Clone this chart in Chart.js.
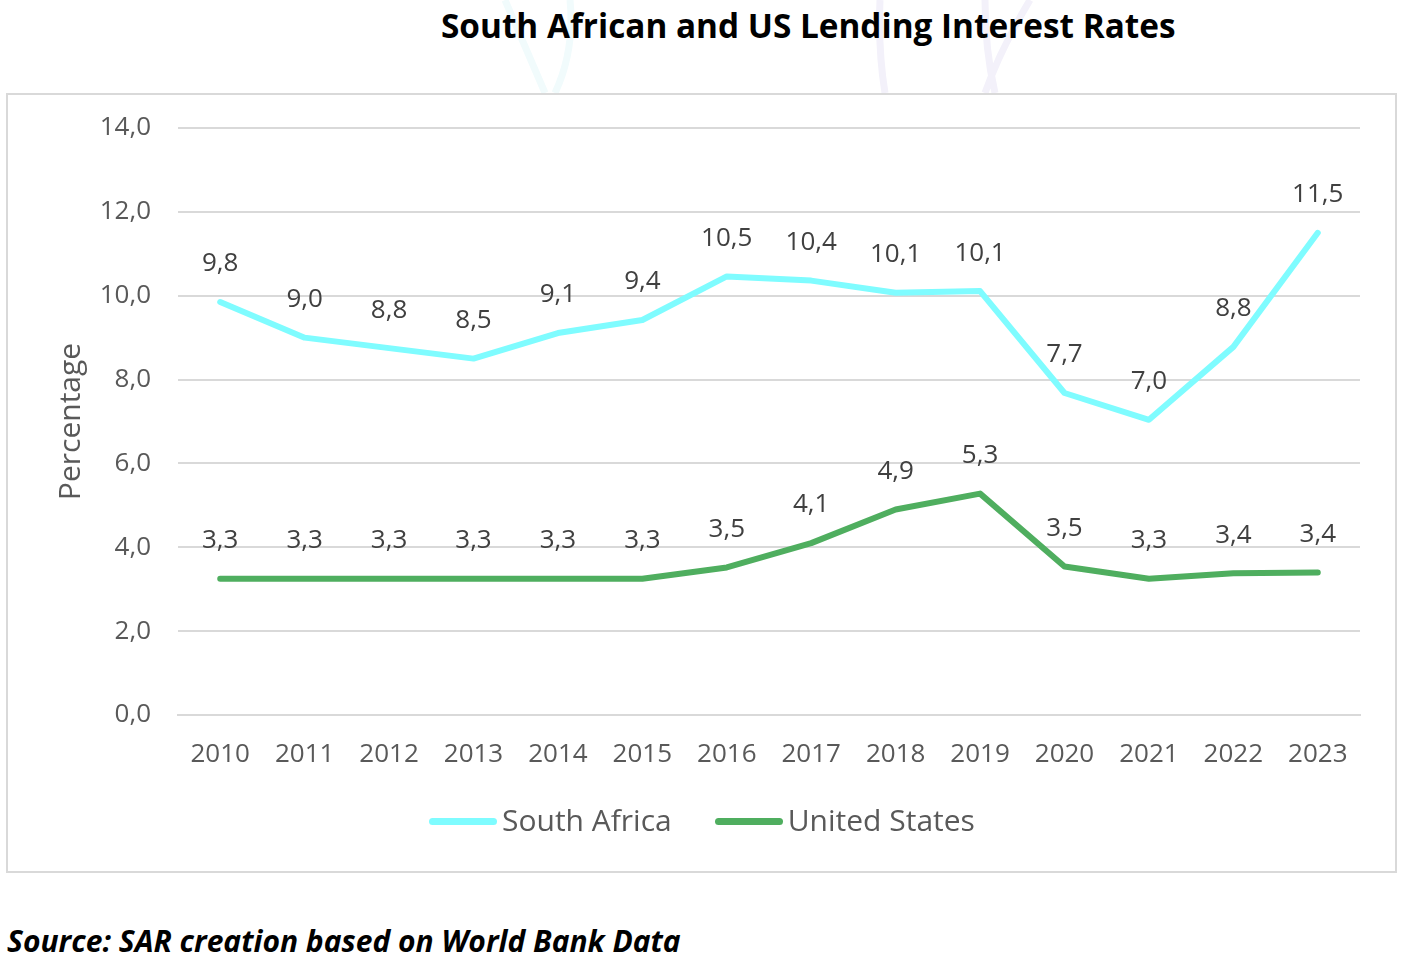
<!DOCTYPE html>
<html>
<head>
<meta charset="utf-8">
<title>South African and US Lending Interest Rates</title>
<script src="https://cdn.jsdelivr.net/npm/chart.js@4/dist/chart.umd.min.js"></script>
<style>
  html,body{margin:0;padding:0;background:#fff;font-family:"Open Sans",sans-serif;}
  body{position:relative;width:1402px;height:960px;overflow:hidden;}
  #mark{position:absolute;left:0;top:0;}
  #title{position:absolute;left:441px;top:2px;white-space:nowrap;font-size:33.35px;font-weight:700;color:#000;}
  #frame{position:absolute;left:6px;top:93px;width:1391px;height:780px;border:2px solid #d9d9d9;box-sizing:border-box;background:#fff;}
  #frame canvas{position:absolute;left:0;top:0;}
  #legend{position:absolute;left:421px;top:704px;display:flex;font-size:30px;color:#595959;white-space:nowrap;}
  #legend span.item{display:flex;align-items:center;margin-right:43px;}
  #legend span.key{display:inline-block;width:68px;height:7px;border-radius:4px;margin-right:5px;margin-top:3px;}
  #source{position:absolute;left:7px;top:920px;font-size:30px;font-weight:700;font-style:italic;color:#000;}
</style>
</head>
<body>
<svg id="mark" width="1402" height="93" fill="none" stroke-width="7">
  <path d="M505 0 L545 93 M570 0 Q575 50 555 93" stroke="#f1fbfc"/>
  <path d="M880 0 Q878 50 885 93 M1030 0 Q1000 50 985 93 M985 0 Q985 50 995 93" stroke="#f3f1fa"/>
</svg>
<div id="title">South African and US Lending Interest Rates</div>
<div id="frame">
  <canvas id="chart" width="1387" height="776"></canvas>
  <div id="legend"></div>
</div>
<div id="source">Source: SAR creation based on World Bank Data</div>
<script>
const years = ['2010','2011','2012','2013','2014','2015','2016','2017','2018','2019','2020','2021','2022','2023'];
const southAfrica = [9.85,9.0,8.75,8.5,9.11,9.42,10.46,10.36,10.07,10.11,7.68,7.04,8.78,11.5];
const unitedStates = [3.25,3.25,3.25,3.25,3.25,3.25,3.52,4.1,4.9,5.28,3.54,3.25,3.38,3.4];
const seriesNames = ['South Africa','United States'];
const seriesColors = ['#7ffcff','#4fae5f'];

const fmt = v => v.toFixed(1).replace('.',',');

// value labels above every point, placed off the library's own point positions
const pointLabels = {
  id:'pointLabels',
  afterDatasetsDraw(chart){
    const c = chart.ctx;
    c.save();
    c.font = '26px "Open Sans"';
    c.fillStyle = '#404040';
    c.textAlign = 'center';
    c.textBaseline = 'middle';
    chart.data.datasets.forEach((ds,i)=>{
      chart.getDatasetMeta(i).data.forEach((pt,j)=>{
        c.fillText(fmt(ds.data[j]), pt.x, pt.y-38);
      });
    });
    c.restore();
  }
};

new Chart(document.getElementById('chart'), {
  type:'line',
  data:{
    labels:years,
    datasets:[
      {label:seriesNames[0],data:southAfrica,borderColor:seriesColors[0],backgroundColor:seriesColors[0]},
      {label:seriesNames[1],data:unitedStates,borderColor:seriesColors[1],backgroundColor:seriesColors[1]}
    ]
  },
  plugins:[pointLabels],
  options:{
    responsive:false,
    animation:false,
    clip:false,
    layout:{padding:{top:33,right:35,left:0,bottom:0}},
    elements:{
      line:{borderWidth:6,tension:0,borderCapStyle:'round',borderJoinStyle:'round'},
      point:{radius:0}
    },
    plugins:{legend:{display:false},title:{display:false},tooltip:{enabled:false}},
    scales:{
      x:{
        offset:true,
        afterFit(s){ s.height = 156; },
        grid:{display:false,drawTicks:false},
        border:{color:'#d9d9d9',width:2},
        ticks:{color:'#595959',font:{family:'Open Sans',size:26},padding:24,maxRotation:0,autoSkip:false}
      },
      y:{
        min:0,max:14,
        // tick label overhang would otherwise push the plot top down
        afterFit(s){ s.width = 170; s.paddingTop = 0; s.paddingBottom = 0; },
        grid:{color:'#d9d9d9',lineWidth:2,drawTicks:false},
        border:{display:false},
        ticks:{stepSize:2,color:'#595959',font:{family:'Open Sans',size:26},padding:27,callback:v=>fmt(v)},
        title:{display:true,text:'Percentage',color:'#595959',font:{family:'Open Sans',size:30},padding:{top:45,bottom:0}}
      }
    }
  }
});

// legend
const legend = document.getElementById('legend');
seriesNames.forEach((n,i)=>{
  const item = document.createElement('span');
  item.className = 'item';
  item.innerHTML = `<span class="key" style="background:${seriesColors[i]}"></span>${n}`;
  legend.appendChild(item);
});
</script>
</body>
</html>
